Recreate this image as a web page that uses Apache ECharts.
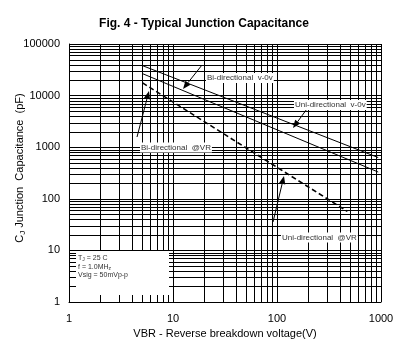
<!DOCTYPE html>
<html>
<head>
<meta charset="utf-8">
<script src="https://cdn.jsdelivr.net/npm/echarts@6/dist/echarts.min.js"></script>
<style>html,body{margin:0;padding:0;background:#fff}#c{width:408px;height:354px}</style>
</head>
<body>
<div id="c"></div>
<script>
// ---- data ----
const voltage = [5.1, 940];           // V (solid curves)
const uniZeroBias = [38000, 630];      // pF, Uni-directional v-0v
const biZeroBias = [26600, 330];       // pF, Bi-directional v-0v
const voltageVR = [5.1, 475];          // V (dashed curve)
const capAtVR = [17600, 57];           // pF, @VR
const xMinorTicks = [2,3,4,5,6,7,8,9,20,30,40,50,60,70,80,90,200,300,400,500,600,700,800,900];
const yMinorTicks = [];
[1,10,100,1000,10000].forEach(d => { for (let k = 2; k <= 9; k++) yMinorTicks.push(k * d); });

const FONT = 'Liberation Sans, Arial, sans-serif';
const chart = echarts.init(document.getElementById('c'), null, {renderer: 'canvas'});

function minorSeries(values, isX) {
  return {
    type: 'custom', silent: true, z: 1, clip: false,
    data: values.map(v => isX ? [v, 1] : [1, v]),
    renderItem: (params, api) => {
      const cs = params.coordSys;
      if (isX) {
        const x = Math.round(api.coord([api.value(0), 1])[0]) + 0.5;
        return {type: 'line', shape: {x1: x, y1: cs.y, x2: x, y2: cs.y + cs.height}, style: {stroke: '#000', lineWidth: 1}};
      } else {
        const y = Math.round(api.coord([1, api.value(1)])[1]) + 0.5;
        return {type: 'line', shape: {x1: cs.x, y1: y, x2: cs.x + cs.width, y2: y}, style: {stroke: '#000', lineWidth: 1}};
      }
    }
  };
}

function arrow(x1, y1, x2, y2) {
  const ang = Math.atan2(y2 - y1, x2 - x1), L = 8, W = 3.2;
  const bx = x2 - L * Math.cos(ang), by = y2 - L * Math.sin(ang);
  const px = -Math.sin(ang) * W, py = Math.cos(ang) * W;
  return [
    {type: 'line', z: 110, shape: {x1, y1, x2: bx, y2: by}, style: {stroke: '#000', lineWidth: 1}},
    {type: 'polygon', z: 110, shape: {points: [[x2, y2], [bx + px, by + py], [bx - px, by - py]]}, style: {fill: '#000'}}
  ];
}
function label(text, x, y) {
  return {type: 'text', z: 120, x, y, style: {text, font: '8px ' + FONT, fill: '#333', backgroundColor: '#fff', padding: [1, 1], verticalAlign: 'middle'}};
}

const lineStyle = {color: '#000', width: 1};
chart.setOption({
  animation: false,
  backgroundColor: '#fff',
  title: {text: 'Fig. 4 - Typical Junction Capacitance', left: 'center', top: 13,
    textStyle: {fontFamily: FONT, fontSize: 12, fontWeight: 'bold', color: '#000'}},
  grid: {left: 69, top: 44, width: 312, height: 258, show: false},
  xAxis: {type: 'log', logBase: 10, min: 1, max: 1000,
    name: 'VBR - Reverse breakdown voltage(V)', nameLocation: 'middle', nameGap: 24,
    nameTextStyle: {fontFamily: FONT, fontSize: 11, color: '#000'},
    axisLine: {lineStyle: {color: '#000', width: 1}}, axisTick: {show: false},
    axisLabel: {fontFamily: FONT, fontSize: 11, color: '#000', margin: 11, formatter: v => String(Math.round(v))},
    splitLine: {show: true, lineStyle: {color: '#000', width: 1}}},
  yAxis: {type: 'log', logBase: 10, min: 1, max: 100000,
    axisLine: {lineStyle: {color: '#000', width: 1}}, axisTick: {show: false},
    axisLabel: {fontFamily: FONT, fontSize: 11, color: '#000', margin: 9, formatter: v => String(Math.round(v))},
    splitLine: {show: true, lineStyle: {color: '#000', width: 1}}},
  series: [
    minorSeries(xMinorTicks, true),
    minorSeries(yMinorTicks, false),
    {type: 'line', name: 'Uni-directional v-0v', data: voltage.map((v, i) => [v, uniZeroBias[i]]), symbol: 'none', lineStyle, z: 5},
    {type: 'line', name: 'Bi-directional v-0v', data: voltage.map((v, i) => [v, biZeroBias[i]]), symbol: 'none', lineStyle, z: 5},
    {type: 'line', name: '@VR', data: voltageVR.map((v, i) => [v, capAtVR[i]]), symbol: 'none',
      lineStyle: {color: '#000', width: 1.6, type: [5, 3]}, z: 5}
  ],
  graphic: [
    {type: 'rect', z: 100, shape: {x: 76, y: 251, width: 93, height: 44}, style: {fill: '#fff'}},
    {type: 'text', z: 120, x: 78, y: 254, style: {
      text: 'T{s|J} = 25 C\nf = 1.0MH{s|z}\nVsig = 50mVp-p',
      font: '7px ' + FONT, fill: '#333', lineHeight: 8.5,
      rich: {s: {fontSize: 5, fill: '#333', verticalAlign: 'bottom', padding: [3, 0, 0, 0]}}}},
    {type: 'text', z: 120, x: 20, y: 168, rotation: Math.PI / 2, style: {
      text: 'C{s|J} Junction  Capacitance  (pF)', font: '11px ' + FONT, fill: '#000', align: 'center', verticalAlign: 'middle',
      rich: {s: {fontSize: 8, fill: '#000', padding: [6, 0, 0, 0]}}}},
    ...arrow(202, 65, 183, 89),
    ...arrow(312, 102, 293, 128),
    ...arrow(137, 137, 149, 91),
    ...arrow(273, 222, 284, 176),
    label('Bi-directional  v-0v', 206, 78),
    label('Uni-directional  v-0v', 294, 105),
    label('Bi-directional  @VR', 140, 147.5),
    label('Uni-directional  @VR', 281, 237.5)
  ]
});
</script>
</body>
</html>
